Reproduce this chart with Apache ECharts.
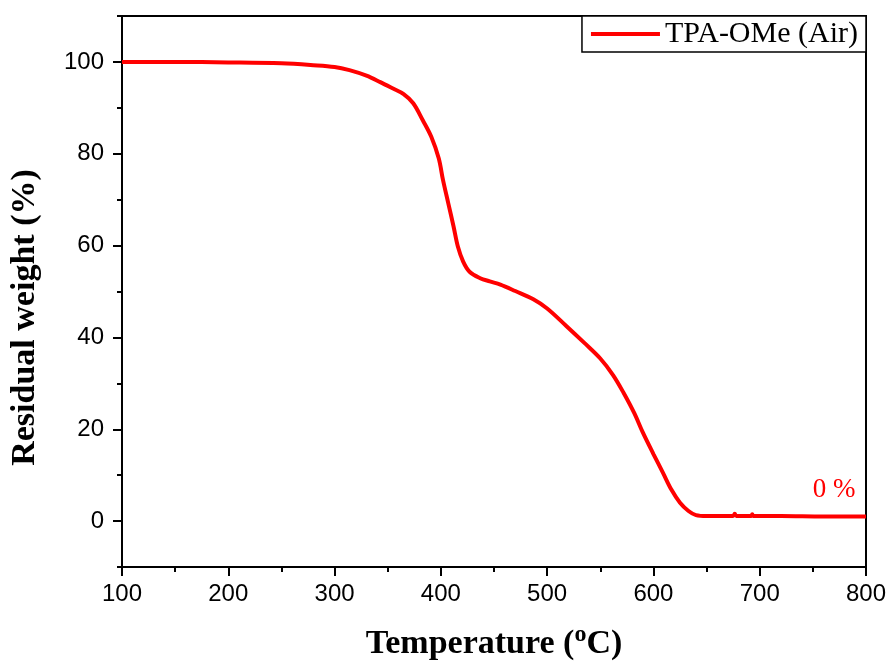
<!DOCTYPE html>
<html>
<head>
<meta charset="utf-8">
<script src="https://cdn.jsdelivr.net/npm/echarts@6/dist/echarts.min.js"></script>
<style>
html,body{margin:0;padding:0;background:#fff;}
#chart{width:892px;height:669px;}
</style>
</head>
<body>
<div id="chart"></div>
<script>
// ---- data ----
var seriesName = 'TPA-OMe (Air)';
var temperature = [100,150,200,250,280,300,314,330,343,355,365,374,383,391,398,402,407,412,416,421,427,437,446,456,470,487,500,518,535,550,562,572,582,590,600,609,617,625,633,640,650,675,676.5,678,692,693,694,720,760,800];
var residual    = [100.0,100.0,99.9,99.7,99.3,98.9,98.2,97.0,95.6,94.2,93.0,91.0,87.3,83.7,79.0,74.3,69.2,64.1,59.8,56.5,54.3,52.9,52.2,51.5,50.1,48.3,46.3,42.5,38.8,35.4,31.8,27.9,23.5,19.3,14.6,10.5,6.8,4.0,2.2,1.3,1.1,1.1,1.6,1.1,1.1,1.5,1.1,1.1,1.0,1.0];
var xTicks = [100,200,300,400,500,600,700,800];
var yMajorTicks = [0,20,40,60,80,100];
var yMinorTicks = [-10,10,30,50,70,90,110];
var annotationText = '0 %';
var annotationAt = [770, 6.7];

var points = temperature.map(function(t,i){return [t, residual[i]];});

var chart = echarts.init(document.getElementById('chart'));
var sans = "'Liberation Sans', Arial, sans-serif";
var serif = "'Liberation Serif', 'Times New Roman', serif";

chart.setOption({
  animation: false,
  backgroundColor: '#fff',
  grid: {left: 122, right: 26, top: 16, bottom: 102, show: true, borderColor: '#000', borderWidth: 2, backgroundColor: 'transparent'},
  legend: {
    right: 26, top: 16,
    data: [seriesName],
    icon: 'rect', itemWidth: 69, itemHeight: 4,
    padding: [3, 8, 3, 9],
    borderColor: '#000', borderWidth: 1.5,
    backgroundColor: '#fff',
    textStyle: {fontFamily: serif, fontSize: 30, color: '#000', lineHeight: 30}
  },
  xAxis: {
    type: 'value', min: 100, max: 800, interval: 100,
    name: 'Temperature ({sup|o}C)', nameLocation: 'middle', nameGap: 56,
    nameTextStyle: {fontFamily: serif, fontSize: 34, fontWeight: 'bold', color: '#000',
      rich: {sup: {fontFamily: serif, fontSize: 24, fontWeight: 'bold', color: '#000', padding: [0,0,18,0]}}},
    axisLine: {show: true, onZero: false, lineStyle: {color: '#000', width: 2}},
    axisTick: {show: true, inside: false, length: 9, lineStyle: {color: '#000', width: 2}},
    minorTick: {show: true, splitNumber: 2, length: 5, lineStyle: {color: '#000', width: 2}},
    axisLabel: {fontFamily: sans, fontSize: 24, color: '#000', margin: 15,
      customValues: xTicks},
    splitLine: {show: false}
  },
  yAxis: [{
    type: 'value', min: -10, max: 110,
    name: 'Residual weight (%)', nameLocation: 'middle', nameGap: 80, nameRotate: 90,
    nameTextStyle: {fontFamily: serif, fontSize: 34, fontWeight: 'bold', color: '#000', padding: [0, 52, 0, 0]},
    axisLine: {show: true, onZero: false, lineStyle: {color: '#000', width: 2}},
    axisTick: {show: true, inside: false, length: 9, customValues: yMajorTicks, lineStyle: {color: '#000', width: 2}},
    axisLabel: {fontFamily: sans, fontSize: 24, color: '#000', margin: 18, customValues: yMajorTicks},
    splitLine: {show: false}
  }, {
    type: 'value', min: -10, max: 110, position: 'left',
    axisLine: {show: false},
    axisTick: {show: true, inside: false, length: 5, customValues: yMinorTicks, lineStyle: {color: '#000', width: 2}},
    axisLabel: {show: false},
    splitLine: {show: false}
  }],
  series: [{
    name: seriesName,
    type: 'line',
    data: points,
    showSymbol: false, symbol: 'none',
    smooth: 0.35,
    lineStyle: {color: '#ff0000', width: 4},
    itemStyle: {color: '#ff0000'},
    markPoint: {
      symbol: 'circle', symbolSize: 0,
      data: [{coord: annotationAt}],
      label: {show: true, position: 'inside', formatter: annotationText, fontFamily: serif, fontSize: 27, color: '#ff0000'}
    }
  }]
});
</script>
</body>
</html>
